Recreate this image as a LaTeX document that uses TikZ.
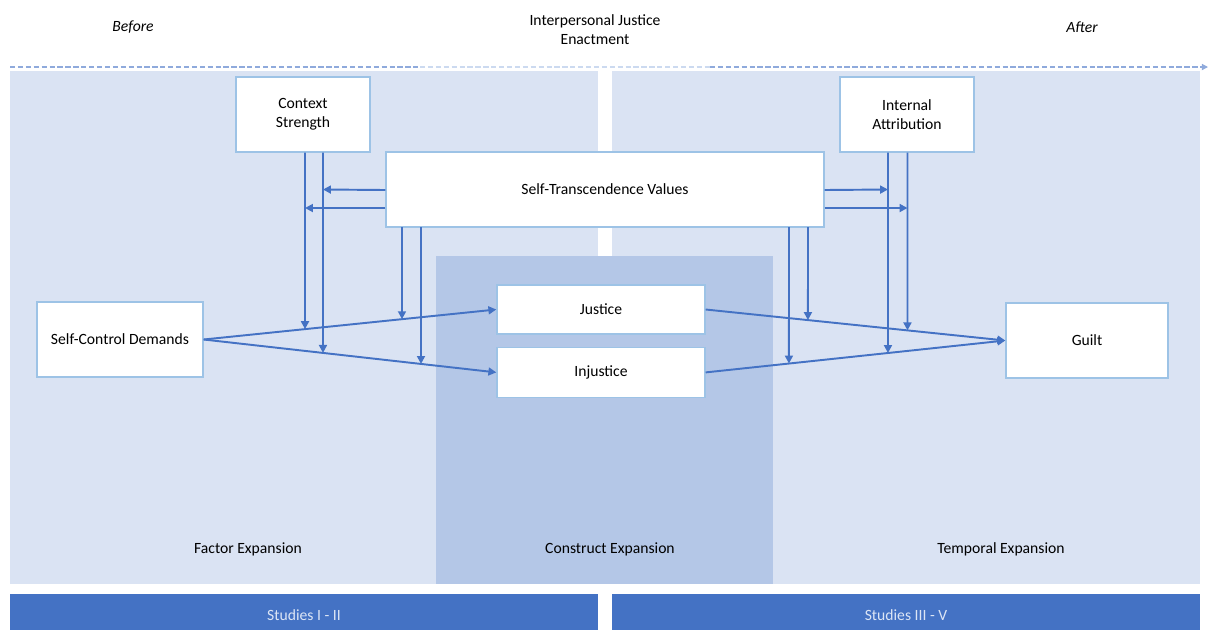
\documentclass[tikz,border=0pt]{standalone}
\usepackage{fontspec}
\setmainfont{Carlito}
\usetikzlibrary{arrows.meta,positioning,calc}

\definecolor{panelblue}{HTML}{DAE3F3}
\definecolor{constructblue}{HTML}{B4C7E7}
\definecolor{studyblue}{HTML}{4472C4}
\definecolor{boxline}{HTML}{9DC3E6}
\definecolor{arrowblue}{HTML}{4472C4}
\definecolor{timeline}{HTML}{8FAADC}
\definecolor{timefade}{HTML}{CCDAF0}
\definecolor{studytext}{HTML}{DCE5F5}

\tikzset{
  varbox/.style={draw=boxline, line width=0.8pt, fill=white, align=center,
                 minimum width=2.68cm, minimum height=1.5cm},
  arr/.style={draw=arrowblue, line width=1.1pt, -{Triangle[length=4.5pt,width=4.5pt]}},
  timedash/.style={line width=0.7pt, dash pattern=on 3pt off 1.5pt},
  panellabel/.style={font=\fontsize{8.9}{10.8}\selectfont},
}

\begin{document}
\begin{tikzpicture}[x=0.02cm, y=-0.02cm, font=\fontsize{8.9}{10.8}\selectfont]
    \useasboundingbox (0,0) rectangle (1210,630);

    % panels
    \fill[panelblue] (10,71) rectangle (598,584);
    \fill[panelblue] (612,71) rectangle (1200,584);
    \fill[constructblue] (436,256) rectangle (773,584);
    \fill[studyblue] (10,594) rectangle (598,630);
    \fill[studyblue] (612,594) rectangle (1200,630);

    % time line
    \node (before) at (133,27) {\itshape Before};
    \node[align=center] (enact) at (595,30) {Interpersonal Justice\\Enactment};
    \node (after) at (1082,27) {\itshape After};
    \coordinate (t0) at (10,67);
    \coordinate (t1) at (420,67);
    \coordinate (t2) at (710,67);
    \coordinate (t3) at (1208,67);
    \draw[timedash, timeline] (t0) -- (t1);
    \draw[timedash, timefade] (t1) -- (t2);
    \draw[timedash, timeline, -{Triangle[length=3.5pt,width=3.5pt]}] (t2) -- (t3);

    % variables
    \node[varbox] (cs) at (303,114.5) {Context\\Strength};
    \node[varbox] (ia) at (907,114.5) {Internal\\Attribution};
    \node[varbox, minimum width=8.76cm] (stv) at (605,189.5) {Self-Transcendence Values};
    \node[varbox, minimum width=3.32cm] (scd) at (120,339.5) {Self-Control Demands};
    \node[varbox, minimum width=4.16cm, minimum height=0.98cm] (jus) at (601,309.5) {Justice};
    \node[varbox, minimum width=4.16cm, minimum height=1cm, below=0.24cm of jus] (inj) {Injustice};
    \node[varbox, minimum width=3.24cm] (guilt) at (1087,340.5) {Guilt};

    % panel labels
    \node[panellabel] (factor) at (248,549) {Factor Expansion};
    \node[panellabel] (construct) at (610,549) {Construct Expansion};
    \node[panellabel] (temporal) at (1001,549) {Temporal Expansion};
    \node[text=studytext] (study1) at (304,615) {Studies I - II};
    \node[text=studytext] (study2) at (906,615) {Studies III - V};

    % main paths
    \draw[arr] (scd.east) -- (jus.west);
    \draw[arr] (scd.east) -- (inj.west);
    \draw[arr] (jus.east) -- (guilt.west);
    \draw[arr] (inj.east) -- (guilt.west);

    % moderators
    \coordinate (cs1) at ($(cs.south)+(2,0)$);
    \coordinate (cs2) at ($(cs.south)+(20,0)$);
    \coordinate (ia1) at ($(ia.south)+(-19,0)$);
    \coordinate (ia2) at ($(ia.south)+(0.5,0)$);
    \coordinate (sv1) at (402,227);
    \coordinate (sv2) at (421,227);
    \coordinate (sv3) at (789,227);
    \coordinate (sv4) at (808,227);
    \coordinate (low) at (0,500);

    \draw[arr] (cs1) -- (intersection of cs1--{cs1|-low} and scd.east--jus.west);
    \draw[arr] (cs2) -- (intersection of cs2--{cs2|-low} and scd.east--inj.west);
    \draw[arr] (sv1) -- (intersection of sv1--{sv1|-low} and scd.east--jus.west);
    \draw[arr] (sv2) -- (intersection of sv2--{sv2|-low} and scd.east--inj.west);
    \draw[arr] (sv3) -- (intersection of sv3--{sv3|-low} and inj.east--guilt.west);
    \draw[arr] (sv4) -- (intersection of sv4--{sv4|-low} and jus.east--guilt.west);
    \draw[arr] (ia1) -- (intersection of ia1--{ia1|-low} and inj.east--guilt.west);
    \draw[arr] (ia2) -- (intersection of ia2--{ia2|-low} and jus.east--guilt.west);

    \draw[arr] ($(stv.west)+(0,0.5)$) -- (stv.west -| cs2);
    \draw[arr] ($(stv.west)+(0,18.5)$) -- ($(stv.west -| cs1)+(0,18.5)$);
    \draw[arr] ($(stv.east)+(0,0.5)$) -- (stv.east -| ia1);
    \draw[arr] ($(stv.east)+(0,18.5)$) -- ($(stv.east -| ia2)+(0,18.5)$);
\end{tikzpicture}
\end{document}
